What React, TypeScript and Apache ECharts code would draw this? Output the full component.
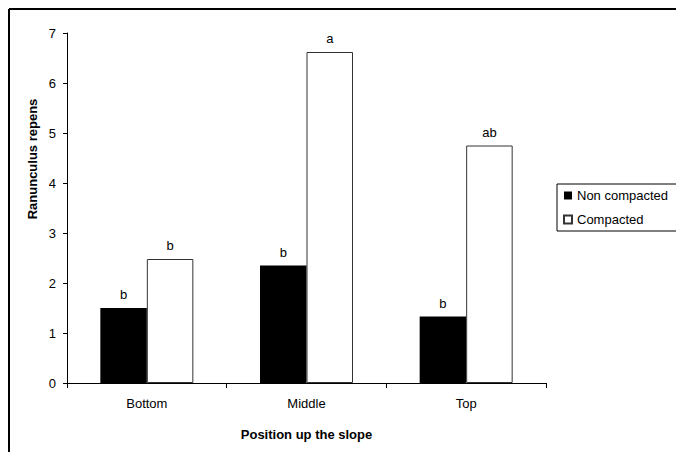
import React, { useEffect, useRef } from "react";
import * as echarts from "echarts";

const categories = ["Bottom", "Middle", "Top"];
const nonCompacted = [1.5, 2.35, 1.33];
const compacted = [2.48, 6.62, 4.75];
const lettersNonCompacted = ["b", "b", "b"];
const lettersCompacted = ["b", "a", "ab"];
const yTicks = [0, 7, 1]; // min, max, interval

const FONT = "'Liberation Sans', Arial, sans-serif";

export default function App() {
  const ref = useRef<HTMLDivElement>(null);
  useEffect(() => {
    if (!ref.current) return;
    const chart = echarts.init(ref.current, null, { renderer: "svg" });
    chart.setOption({
      animation: false,
      backgroundColor: "#ffffff",
      textStyle: { fontFamily: FONT },
      grid: { left: 67, right: 130, top: 33, bottom: 69, containLabel: false },
      legend: {
        orient: "vertical",
        left: 557,
        top: 184,
        padding: [5, 20, 5, 6],
        itemWidth: 8,
        itemHeight: 8,
        itemGap: 11,
        icon: "rect",
        borderColor: "#000",
        borderWidth: 1,
        textStyle: { fontSize: 13, color: "#000", fontFamily: FONT },
        data: ["Non compacted", "Compacted"],
      },
      xAxis: {
        type: "category",
        data: categories,
        name: "Position up the slope",
        nameLocation: "middle",
        nameGap: 45,
        nameTextStyle: { fontSize: 13, fontWeight: "bold", color: "#000", fontFamily: FONT },
        axisLine: { lineStyle: { color: "#000", width: 1 } },
        axisTick: { show: true, length: 5, inside: false, lineStyle: { color: "#000" } },
        axisLabel: { fontSize: 13, color: "#000", margin: 14, fontFamily: FONT },
        splitLine: { show: false },
      },
      yAxis: {
        type: "value",
        min: yTicks[0],
        max: yTicks[1],
        interval: yTicks[2],
        axisLine: { show: true, lineStyle: { color: "#000", width: 1 } },
        axisTick: { show: true, length: 4, lineStyle: { color: "#000" } },
        axisLabel: { fontSize: 13, color: "#000", margin: 11, fontFamily: FONT },
        splitLine: { show: false },
      },
      graphic: [
        {
          type: "line",
          shape: { x1: 9, y1: 9, x2: 676, y2: 9 },
          style: { stroke: "#000", lineWidth: 2 },
        },
        {
          type: "line",
          shape: { x1: 9, y1: 9, x2: 9, y2: 452 },
          style: { stroke: "#000", lineWidth: 2 },
        },
        {
          type: "text",
          x: 32,
          y: 159,
          rotation: Math.PI / 2,
          style: {
            text: "Ranunculus repens",
            font: "bold 13px " + FONT,
            fill: "#000",
            align: "center",
            verticalAlign: "middle",
          },
        },
      ],
      series: [
        {
          name: "Non compacted",
          type: "bar",
          data: nonCompacted,
          barWidth: 46.5,
          barGap: "0%",
          itemStyle: { color: "#000000", borderColor: "#000000", borderWidth: 0 },
          label: {
            show: true,
            position: "top",
            distance: 7,
            fontSize: 13,
            color: "#000",
            fontFamily: FONT,
            formatter: (p: any) => lettersNonCompacted[p.dataIndex],
          },
        },
        {
          name: "Compacted",
          type: "bar",
          data: compacted,
          barWidth: 46.5,
          barGap: "0%",
          itemStyle: { color: "#ffffff", borderColor: "#333333", borderWidth: 1 },
          label: {
            show: true,
            position: "top",
            distance: 7,
            fontSize: 13,
            color: "#000",
            fontFamily: FONT,
            formatter: (p: any) => lettersCompacted[p.dataIndex],
          },
        },
      ],
    });
    return () => chart.dispose();
  }, []);
  return (
    <div
      ref={ref}
      style={{ position: "fixed", left: 0, top: 0, width: 676, height: 452, background: "#fff" }}
    />
  );
}
